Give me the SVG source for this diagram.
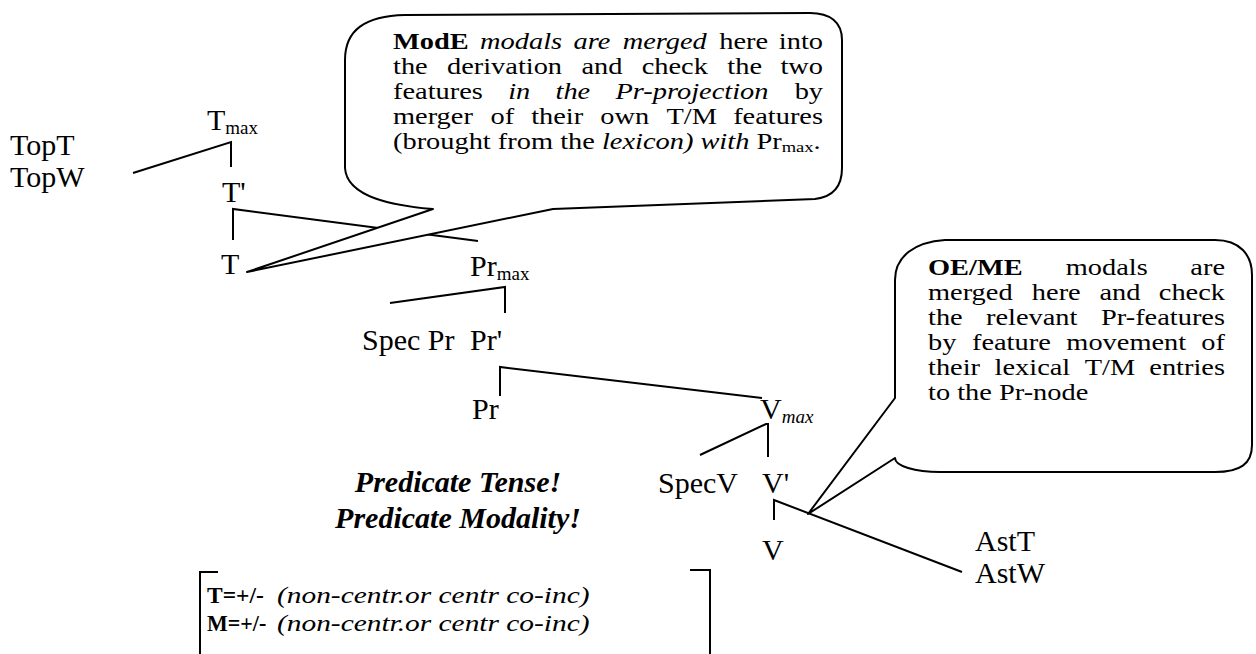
<svg xmlns="http://www.w3.org/2000/svg" width="1256" height="654" viewBox="0 0 1256 654">
  <style>
    .edge { fill: none; stroke: #000; stroke-width: 2; stroke-linejoin: miter; }
    .bubble { fill: #fff; stroke: #000; stroke-width: 2; stroke-linejoin: round; }
    .lbl { font-family: "Liberation Serif", "Times New Roman", serif; font-size: 30px; fill: #000; }
    .sub { font-size: 19px; }
    .note { font-family: "Liberation Serif", "Times New Roman", serif; font-size: 23px; fill: #000; }
    .b { font-weight: bold; }
    .i { font-style: italic; }
    .slogan { font-family: "Liberation Serif", "Times New Roman", serif; font-size: 30px; font-weight: bold; font-style: italic; fill: #000; }
  </style>

  <rect width="1256" height="654" fill="#fff"/>

  <!-- tree branches -->
  <g id="connectors">
    <path class="edge" d="M133,173 L231,142 L231,167"/>
    <path class="edge" d="M233,240 L233,209 L478,241"/>
    <path class="edge" d="M390,303 L505,287 L505,313"/>
    <path class="edge" d="M500,396 L500,367 L762,398"/>
    <path class="edge" d="M700,455 L766,424 L768,424 L768,457"/>
    <path class="edge" d="M774,520 L774,500 L962,572"/>
  </g>

  <!-- speech bubble: ModE modals -->
  <g id="note-mode">
    <path class="bubble" d="M345,60 C345,30 365,16 405,15 L810,13 C830,13 842,22 842,40 L842,168 C842,188 832,197 815,199 L553,209 L247,272 L433,209 C395,206 347,198 345,168 Z"/>
    <g class="note" transform="translate(393 0) scale(1.235 1)">
      <text y="49"><tspan x="0" class="b">ModE</tspan><tspan x="70.5" class="i">modals</tspan><tspan x="146.2" class="i">are</tspan><tspan x="186" class="i">merged</tspan><tspan x="264.2">here</tspan></text>
      <text y="49" x="348.2" text-anchor="end">into</text>
      <text y="74"><tspan x="0">the</tspan><tspan x="43.7">derivation</tspan><tspan x="152.6">and</tspan><tspan x="201.4">check</tspan><tspan x="270.7">the</tspan></text>
      <text y="74" x="348.2" text-anchor="end">two</text>
      <text y="99"><tspan x="0">features</tspan><tspan x="93.3" class="i">in</tspan><tspan x="131.6" class="i">the</tspan><tspan x="180.2" class="i">Pr-projection</tspan></text>
      <text y="99" x="348.2" text-anchor="end">by</text>
      <text y="124"><tspan x="0">merger</tspan><tspan x="79">of</tspan><tspan x="111.9">their</tspan><tspan x="167.9">own</tspan><tspan x="221.4">T/M</tspan></text>
      <text y="124" x="348.2" text-anchor="end">features</text>
      <text y="149" x="0">(brought from the <tspan class="i">lexicon) with</tspan> Pr<tspan font-size="15" dy="3">max</tspan><tspan dy="-3">.</tspan></text>
    </g>
  </g>

  <!-- speech bubble: OE/ME modals -->
  <g id="note-oeme">
    <path class="bubble" d="M895,280 C895,256 915,242 945,240 L1215,240 C1240,240 1252,255 1252,275 L1252,445 C1252,464 1240,472 1215,472 L940,472 C915,472 895,466 895,458 L808,514 L895,398 Z"/>
    <g class="note" transform="translate(928 0) scale(1.235 1)">
      <text y="275"><tspan x="0" class="b">OE/ME</tspan><tspan x="111.5">modals</tspan></text>
      <text y="275" x="240.5" text-anchor="end">are</text>
      <text y="300"><tspan x="0">merged</tspan><tspan x="84.1">here</tspan><tspan x="138.8">and</tspan></text>
      <text y="300" x="240.5" text-anchor="end">check</text>
      <text y="325"><tspan x="0">the</tspan><tspan x="47">relevant</tspan></text>
      <text y="325" x="240.5" text-anchor="end">Pr-features</text>
      <text y="350"><tspan x="0">by</tspan><tspan x="35.6">feature</tspan><tspan x="112">movement</tspan></text>
      <text y="350" x="240.5" text-anchor="end">of</text>
      <text y="375"><tspan x="0">their</tspan><tspan x="53.9">lexical</tspan><tspan x="126.9">T/M</tspan></text>
      <text y="375" x="240.5" text-anchor="end">entries</text>
      <text y="400" x="0">to the Pr-node</text>
    </g>
  </g>

  <!-- tree nodes -->
  <g id="node-tmax"><text class="lbl" x="207" y="130">T<tspan class="sub" dy="4">max</tspan></text></g>
  <g id="node-topt"><text class="lbl" x="10" y="155">TopT</text><text class="lbl" x="10" y="187">TopW</text></g>
  <g id="node-tbar"><text class="lbl" x="222" y="202">T'</text></g>
  <g id="node-t"><text class="lbl" x="221" y="274">T</text></g>
  <g id="node-prmax"><text class="lbl" x="470" y="276">Pr<tspan class="sub" dy="4">max</tspan></text></g>
  <g id="node-specpr"><text class="lbl" x="362" y="350">Spec Pr</text></g>
  <g id="node-prbar"><text class="lbl" x="470" y="350">Pr'</text></g>
  <g id="node-pr"><text class="lbl" x="472" y="419">Pr</text></g>
  <g id="node-vmax"><text class="lbl" x="760" y="419">V<tspan class="sub i" dy="4">max</tspan></text></g>
  <g id="node-specv"><text class="lbl" x="658" y="493">SpecV</text></g>
  <g id="node-vbar"><text class="lbl" x="762" y="493">V'</text></g>
  <g id="node-v"><text class="lbl" x="762" y="560">V</text></g>
  <g id="node-ast"><text class="lbl" x="975" y="551">AstT</text><text class="lbl" x="975" y="583">AstW</text></g>

  <!-- slogan -->
  <g id="slogan">
    <text class="slogan" x="458" y="492" text-anchor="middle">Predicate Tense!</text>
    <text class="slogan" x="458" y="528" text-anchor="middle">Predicate Modality!</text>
  </g>

  <!-- feature matrix -->
  <g id="features">
    <path class="edge" d="M218,572 L200,572 L200,654"/>
    <path class="edge" d="M690,570 L710,570 L710,654"/>
    <g class="note" transform="translate(207 0) scale(1.235 1)">
      <text class="b" x="0" y="603" textLength="46" lengthAdjust="spacingAndGlyphs">T=+/-</text>
      <text class="i" x="56.7" y="603" textLength="253" lengthAdjust="spacingAndGlyphs">(non-centr.or centr co-inc)</text>
      <text class="b" x="0" y="631" textLength="48" lengthAdjust="spacingAndGlyphs">M=+/-</text>
      <text class="i" x="56.7" y="631" textLength="253" lengthAdjust="spacingAndGlyphs">(non-centr.or centr co-inc)</text>
    </g>
  </g>
</svg>
